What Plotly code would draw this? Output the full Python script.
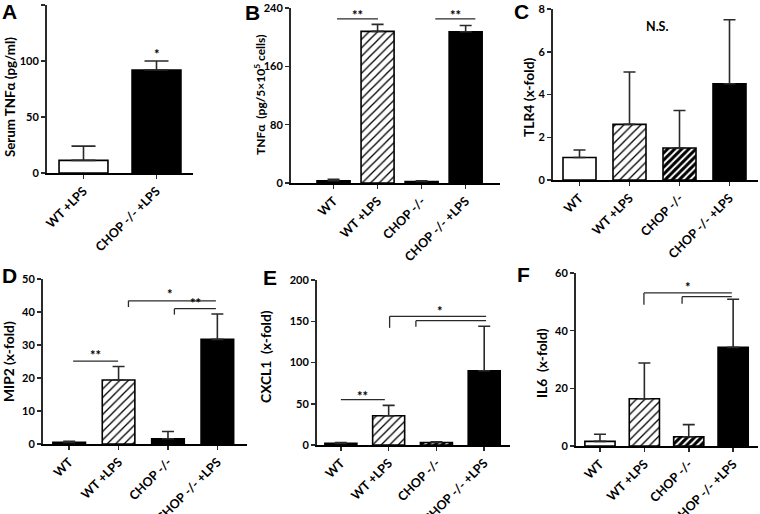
import plotly.graph_objects as go

W, H = 760, 514

# ---------------- data ----------------
cats4 = ["WT", "WT +LPS", "CHOP -/-", "CHOP -/- +LPS"]
cats2 = ["WT +LPS", "CHOP -/- +LPS"]

a_vals = [11.3, 92]
a_errtop = [24, 100]

b_vals = [3, 208, 2, 207.5]
b_errtop = [5, 217.5, 3, 216]

c_vals = [1.05, 2.6, 1.5, 4.5]
c_errtop = [1.4, 5.05, 3.25, 7.5]

d_vals = [0.5, 19.4, 1.6, 31.7]
d_errtop = [0.8, 23.5, 3.8, 39.4]

e_vals = [2, 35.5, 3, 90]
e_errtop = [3, 48, 4, 144]

f_vals = [1.6, 16.4, 3.2, 34.2]
f_errtop = [4.05, 28.8, 7.4, 50.9]

a_ticks = [0, 50, 100, 150]
b_ticks = [0, 80, 160, 240]
c_ticks = [0, 2, 4, 6, 8]
d_ticks = [0, 10, 20, 30, 40, 50]
e_ticks = [0, 50, 100, 150, 200]
f_ticks = [0, 20, 40, 60]

# significance markers: (x0, x1, y, drop_to or None)
b_sig_lines = [(0.08, 1.01, 225, None), (2.31, 3.22, 225, None)]
b_sig_text = [(0.55, 231, "**"), (2.77, 231, "**")]
d_sig_lines = [(0.08, 0.99, 25.1, None), (1.20, 2.97, 43.4, 41.5), (2.13, 2.97, 41.0, 39.2)]
d_sig_text = [(0.53, 27.0, "**"), (2.04, 45.4, "*"), (2.55, 42.8, "**")]
e_sig_lines = [(0.0, 0.92, 55, None), (1.02, 3.04, 156, 142), (1.57, 3.04, 150.7, 143.4)]
e_sig_text = [(0.46, 60.0, "**"), (2.07, 162, "*")]
f_sig_lines = [(0.99, 2.97, 53.1, 49.0), (1.85, 2.97, 51.8, 49.3)]
f_sig_text = [(1.98, 55.3, "*")]
a_sig_text = [(1.0, 106, "*")]
c_sig_text = [(1.55, 7.17, "N.S.")]

FONT = "Lato"
AXC = "#2a2a2a"


def fx(p):
    return p / W


def fy(p):
    return 1 - p / H


styles4 = ["white", "light", "dark", "black"]
styles2 = ["white", "black"]

panels = [
    dict(cats=cats2, vals=a_vals, err=a_errtop, sty=styles2, xpx=(47, 193), ypx=(5, 173),
         yr=(0, 150), ticks=a_ticks, xr=(-0.5, 1.5), bw=0.67, cap=12),
    dict(cats=cats4, vals=b_vals, err=b_errtop, sty=["black", "light", "black", "black"],
         xpx=(291, 500), ypx=(8, 183), yr=(0, 240), ticks=b_ticks, xr=(-0.966, 3.78), bw=0.75, cap=6),
    dict(cats=cats4, vals=c_vals, err=c_errtop, sty=styles4, xpx=(553, 758), ypx=(9, 180),
         yr=(0, 8), ticks=c_ticks, xr=(-0.53, 3.57), bw=0.66, cap=6),
    dict(cats=cats4, vals=d_vals, err=d_errtop, sty=["black", "light", "black", "black"],
         xpx=(43, 247), ypx=(279, 444), yr=(0, 50), ticks=d_ticks, xr=(-0.53, 3.6), bw=0.66, cap=6),
    dict(cats=cats4, vals=e_vals, err=e_errtop, sty=["black", "light", "dark", "black"],
         xpx=(317, 510), ypx=(280, 445), yr=(0, 200), ticks=e_ticks, xr=(-0.5, 3.54), bw=0.67, cap=6),
    dict(cats=cats4, vals=f_vals, err=f_errtop, sty=styles4, xpx=(576, 758), ypx=(273, 446),
         yr=(0, 60), ticks=f_ticks, xr=(-0.54, 3.56), bw=0.68, cap=6),
]


def marker_for(s):
    line = dict(color="black", width=1.6)
    if s == "black":
        return dict(color="black", line=line)
    if s == "white":
        return dict(color="white", line=line)
    if s == "light":
        return dict(color="white", line=line,
                    pattern=dict(shape="/", fgcolor="black", bgcolor="white", size=6,
                                 solidity=0.22, fillmode="replace"))
    return dict(color="white", line=line,
                pattern=dict(shape="/", fgcolor="black", bgcolor="white", size=5,
                             solidity=0.6, fillmode="replace"))


fig = go.Figure()
layout = {}
for i, p in enumerate(panels):
    n = "" if i == 0 else str(i + 1)
    xa, ya = "x" + n, "y" + n
    for c, v, t, s in zip(p["cats"], p["vals"], p["err"], p["sty"]):
        fig.add_trace(go.Bar(
            x=[c], y=[v], xaxis=xa, yaxis=ya, width=p["bw"],
            marker=marker_for(s),
            error_y=dict(type="data", symmetric=False, array=[t - v], arrayminus=[0],
                         color=AXC, thickness=1.6, width=p["cap"]),
            showlegend=False, hoverinfo="skip",
        ))

    layout["xaxis" + n] = dict(
        domain=[fx(p["xpx"][0]), fx(p["xpx"][1])], anchor=ya, range=list(p["xr"]),
        type="category", categoryorder="array", categoryarray=p["cats"],
        showline=True, linecolor="black", linewidth=2, automargin=False,
        ticks="outside", ticklen=4, tickwidth=1.5, tickcolor=AXC,
        tickangle=-45, tickfont=dict(family=FONT, size=12.5, color="black", weight="bold"),
        showgrid=False, zeroline=False, fixedrange=True,
    )
    layout["yaxis" + n] = dict(
        domain=[fy(p["ypx"][1]), fy(p["ypx"][0])], anchor=xa, range=list(p["yr"]),
        tickvals=p["ticks"], showline=True, linecolor=AXC, linewidth=2, automargin=False,
        ticks="outside", ticklen=4, tickwidth=1.5, tickcolor=AXC,
        tickfont=dict(family=FONT, size=11, color="black", weight="bold"),
        showgrid=False, zeroline=False, fixedrange=True,
    )

fig.update_layout(**layout)

shapes = []
annots = []


def add_sig(idx, lines, texts):
    n = "" if idx == 0 else str(idx + 1)
    for x0, x1, y, drop in lines:
        shapes.append(dict(type="line", xref="x" + n, yref="y" + n, x0=x0, x1=x1, y0=y, y1=y,
                           line=dict(color=AXC, width=1.3)))
        if drop is not None:
            shapes.append(dict(type="line", xref="x" + n, yref="y" + n, x0=x0, x1=x0, y0=y, y1=drop,
                               line=dict(color=AXC, width=1.3)))
    for x, y, t in texts:
        annots.append(dict(xref="x" + n, yref="y" + n, x=x, y=y, text=t, showarrow=False,
                           font=dict(family=FONT, size=13 if t != "N.S." else 12.5, color="black",
                                     weight="bold"),
                           yanchor="middle"))


add_sig(0, [], a_sig_text)
add_sig(1, b_sig_lines, b_sig_text)
add_sig(2, [], c_sig_text)
add_sig(3, d_sig_lines, d_sig_text)
add_sig(4, e_sig_lines, e_sig_text)
add_sig(5, f_sig_lines, f_sig_text)

# y-axis titles: (x px, y px, text, font size)
ytitles = [
    (10, 97, "Serum TNFα (pg/ml)", 13.3),
    (260, 95, "TNFα  (pg/5×10<sup>5</sup> cells)", 12),
    (528, 97, "TLR4 (x-fold)", 13.8),
    (8, 362, "MIP2 (x-fold)", 13.8),
    (265, 357, "CXCL1  (x-fold)", 13.8),
    (541, 363, "IL6  (x-fold)", 13.8),
]
for x, y, t, s in ytitles:
    annots.append(dict(xref="paper", yref="paper", x=fx(x), y=fy(y), text=t, showarrow=False,
                       textangle=-90, xanchor="center", yanchor="middle",
                       font=dict(family=FONT, size=s, color="black", weight="bold")))

# panel letters
letters = [(9, 11, "A"), (253, 12, "B"), (521, 11, "C"), (9, 275, "D"), (270, 277, "E"), (523, 274, "F")]
for x, y, t in letters:
    annots.append(dict(xref="paper", yref="paper", x=fx(x), y=fy(y), text=t, showarrow=False,
                       xanchor="center", yanchor="middle",
                       font=dict(family="Liberation Sans", size=21, color="black", weight="bold")))

fig.update_layout(
    width=W, height=H, margin=dict(l=0, r=0, t=0, b=0, pad=0, autoexpand=False),
    paper_bgcolor="white", plot_bgcolor="white", barmode="overlay",
    shapes=shapes, annotations=annots,
)

fig.write_html("out.html", config={"displayModeBar": False, "staticPlot": True},
               post_script="document.body.style.margin='0';document.body.style.overflow='hidden';")
